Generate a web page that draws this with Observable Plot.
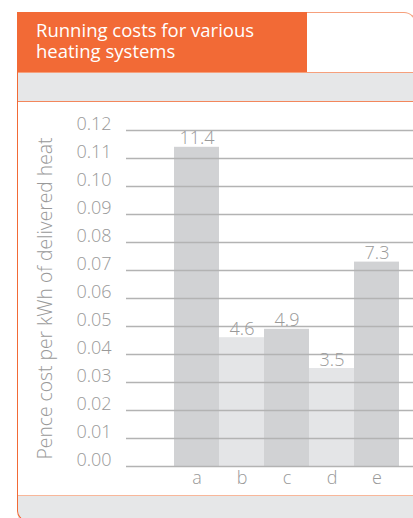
<!DOCTYPE html>
<html>
<head>
<meta charset="utf-8">
<script src="https://cdn.jsdelivr.net/npm/d3@7"></script>
<script src="https://cdn.jsdelivr.net/npm/@observablehq/plot@0.6"></script>
<style>
  html, body { margin: 0; padding: 0; background: #fff; }
  body { width: 413px; height: 518px; position: relative; overflow: hidden; font-family: "Open Sans", sans-serif; }
  #frame { position: absolute; left: 17px; top: 12px; width: 399px; height: 509px; box-sizing: border-box;
           border-left: 1px solid #f26a36; border-top: 1px solid #f6a07c; border-right: 1px solid #f6a07c;
           border-bottom: 1px solid #f26a36; border-radius: 0 12px 0 10px; overflow: hidden; }
  #title { position: absolute; left: 17px; top: 12px; width: 290px; height: 60px; background: #f26a36; box-sizing: border-box; }
  .tline { position: absolute; left: 36px; color: #fff; font-size: 18.5px; line-height: 20px; white-space: nowrap; }
  #band1 { position: absolute; left: 18px; top: 72px; width: 400px; height: 30px; background: #e6e7e8;
           border-top: 1px solid #f6a07c; border-bottom: 1px solid #f3875c; box-sizing: border-box; }
  #band2 { position: absolute; left: 18px; top: 495px; width: 400px; height: 30px; background: #e6e7e8;
           border-top: 1px solid #f8b79a; box-sizing: border-box; }
  #chart { position: absolute; left: 0; top: 102px; }
</style>
</head>
<body>
<div id="band1"></div>
<div id="band2"></div>
<div id="frame"></div>
<div id="title"></div>
<div class="tline" style="top:20px">Running costs for various</div>
<div class="tline" style="top:41px">heating systems</div>
<div id="chart"></div>
<script>
// Data
const systems = ["a", "b", "c", "d", "e"];
const costs = [0.114, 0.046, 0.049, 0.035, 0.073];
const valueLabels = ["11.4", "4.6", "4.9", "3.5", "7.3"];
const yTicks = [0, 0.01, 0.02, 0.03, 0.04, 0.05, 0.06, 0.07, 0.08, 0.09, 0.10, 0.11, 0.12];
const yTitle = "Pence cost per kWh of delivered heat";

const table = systems.map((s, i) => ({system: s, cost: costs[i], label: valueLabels[i]}));

const dark = "#d1d2d4";
const light = "#e4e5e7";
const textGray = "#999999";

const chart = Plot.plot({
  width: 413,
  height: 393,
  marginLeft: 126,
  marginRight: 0,
  marginTop: 28,
  marginBottom: 29,
  style: {fontFamily: "'Open Sans', sans-serif", fontSize: "18px", fontWeight: 300, color: textGray, background: "transparent", overflow: "visible"},
  x: {domain: systems, range: [173, 400], padding: 0, label: null},
  y: {domain: [0, 0.12], label: null},
  color: {type: "identity"},
  marks: [
    Plot.barY(table, {x: "system", y: "cost", fill: (d, i) => (i % 2 ? light : dark), inset: 0}),
    Plot.ruleY(yTicks, {stroke: "#b3b3b3", strokeWidth: 1.3}),
    Plot.text(table, {x: "system", y: "cost", text: "label", lineAnchor: "bottom", dy: -3, fill: textGray, fontSize: 18, fontWeight: 300}),
    Plot.axisY({ticks: yTicks, tickFormat: d3.format(".2f"), tickSize: 0, tickPadding: 15, dy: -6, label: null, fontSize: 18, fill: textGray}),
    Plot.axisX({tickSize: 0, tickPadding: 4.5, label: null, fontSize: 18, fill: textGray}),
    Plot.text([yTitle], {frameAnchor: "left", textAnchor: "middle", lineAnchor: "middle", rotate: -90, dx: -81, text: d => d, fontSize: 19.3, fontWeight: 300, fill: textGray})
  ]
});
document.getElementById("chart").appendChild(chart);
</script>
</body>
</html>
